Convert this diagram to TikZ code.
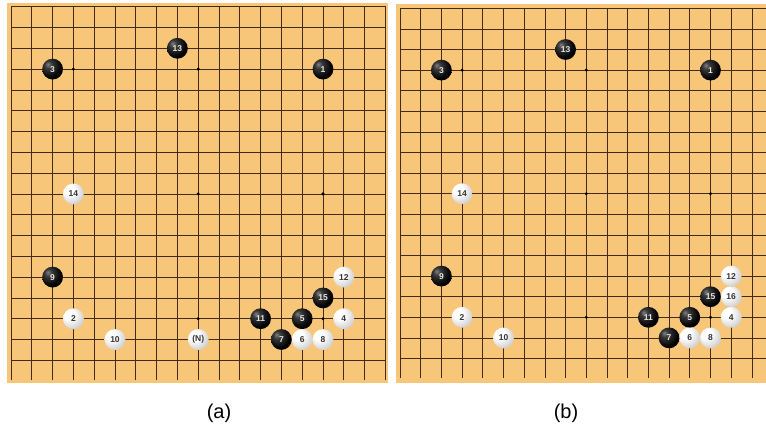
\documentclass[tikz,border=0pt]{standalone}
\usepackage{fontspec}
\setmainfont{Liberation Sans}
\definecolor{boardbg}{RGB}{248,198,120}
\definecolor{gridc}{RGB}{66,42,20}
\pgfdeclareradialshading{wstone}{\pgfqpoint{-12bp}{12bp}}{color(0bp)=(white); color(12bp)=(white); color(34bp)=(black!20); color(54bp)=(black!50); color(75bp)=(black!55)}
\pgfdeclareradialshading{bstone}{\pgfqpoint{-12bp}{12bp}}{color(0bp)=(black!50); color(9bp)=(black!78); color(28bp)=(black); color(75bp)=(black)}
\tikzset{
  gridline/.style={draw=gridc, line width=0.8pt},
  boldline/.style={draw=gridc, line width=1.7pt},
  board/.style={fill=boardbg, draw=none},
  stonebase/.style={circle, minimum size=20.8pt, inner sep=0pt, font=\bfseries\fontsize{8.5}{8.5}\selectfont},
  blackstone/.style={stonebase, shading=bstone, text=white!90!black},
  whitestone/.style={stonebase, shading=wstone, text=black!80},
  hoshi/.style={circle, fill=black, inner sep=0pt, minimum size=3.4pt},
  caption/.style={font=\fontsize{20}{20}\selectfont, inner sep=0pt}
}
\begin{document}
\begin{tikzpicture}[x=1pt,y=-1pt]
\useasboundingbox (0,0) rectangle (766,432);
% ---------- board (a) ----------
\fill[board] (7,3.3) rectangle (388,382.7);
\begin{scope}[shift={(-9.8,-14.1)}, x=20.8pt, y=-20.8pt]
  \foreach \r in {1,...,18} \draw[gridline] (1,\r) -- (19.05,\r);
  \foreach \c in {1,...,19} \draw[gridline] (\c,1) -- (\c,18.95);
  \foreach \c/\r [count=\i] in {4/4,10/4,10/10,16/10,10/16,16/16}
    \node[hoshi] (ah\i) at (\c,\r) {};
  \foreach \c/\r/\n in {16/4/1,3/4/3,15/16/5,14/17/7,3/14/9,13/16/11,9/3/13,16/15/15}
    \node[blackstone] (a\n) at (\c,\r) {\n};
  \foreach \c/\r/\n in {4/16/2,17/16/4,15/17/6,16/17/8,6/17/10,17/14/12,4/10/14}
    \node[whitestone] (a\n) at (\c,\r) {\n};
  \node[whitestone] (aN) at (10,17) {(N)};
\end{scope}
% ---------- board (b) ----------
\fill[board] (396,4) rectangle (766,382.5);
\begin{scope}[shift={(379.3,-12.3)}, x=20.7pt, y=-20.6pt]
  \foreach \r in {1,...,17} \draw[gridline] (1,\r) -- (18.7,\r);
  \draw[boldline] (1,18) -- (18.7,18);
  \foreach \c in {1,...,18} \draw[gridline] (\c,1) -- (\c,18.95);
  \foreach \c/\r [count=\i] in {4/4,10/4,10/10,16/10,10/16,16/16}
    \node[hoshi] (bh\i) at (\c,\r) {};
  \foreach \c/\r/\n in {16/4/1,3/4/3,15/16/5,14/17/7,3/14/9,13/16/11,9/3/13,16/15/15}
    \node[blackstone] (b\n) at (\c,\r) {\n};
  \foreach \c/\r/\n in {4/16/2,17/16/4,15/17/6,16/17/8,6/17/10,17/14/12,4/10/14,17/15/16}
    \node[whitestone] (b\n) at (\c,\r) {\n};
\end{scope}
% ---------- captions ----------
\node[caption] (capa) at (219,413) {(a)};
\node[caption] (capb) at (566,413) {(b)};
\end{tikzpicture}
\end{document}
